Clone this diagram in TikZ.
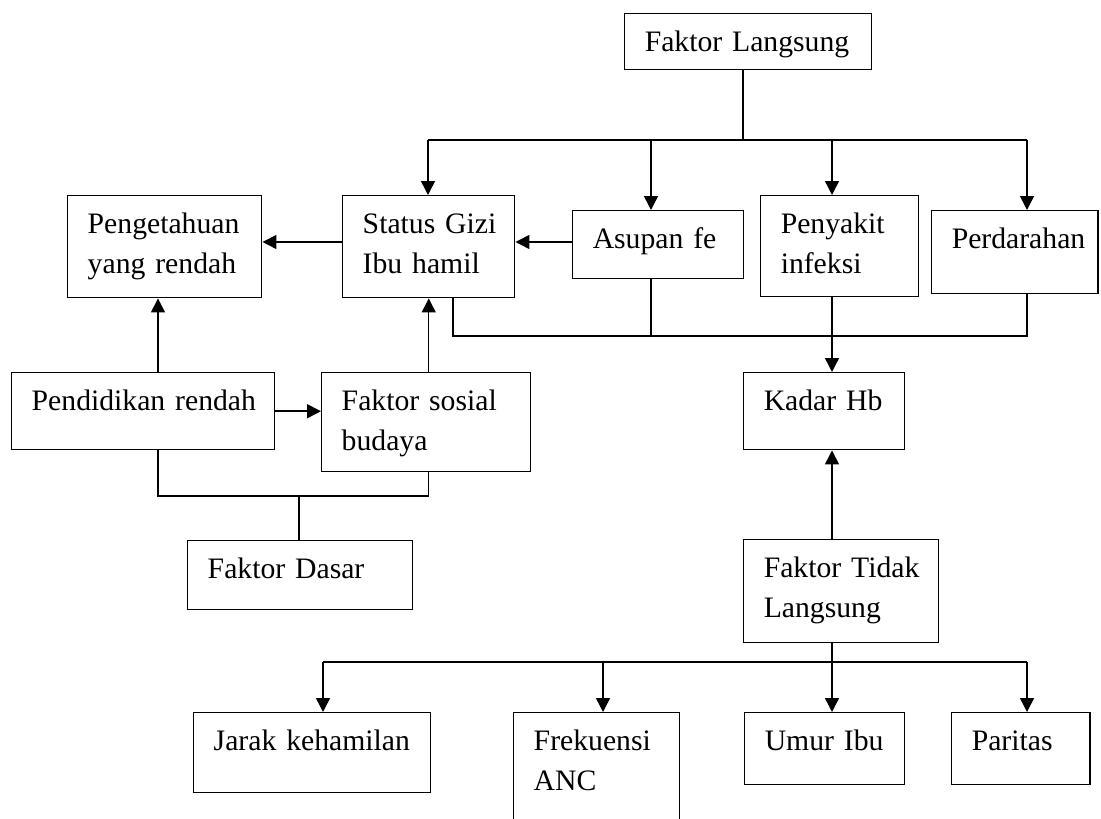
\documentclass[tikz,border=0pt]{standalone}
\usepackage{fontspec}
\setmainfont{Liberation Serif}
\usetikzlibrary{arrows.meta}
\newlength{\unitpx}
\setlength{\unitpx}{0.0142cm}
\hyphenpenalty=10000
\exhyphenpenalty=10000
\tikzset{
  box/.style={draw, line width=0.6pt, anchor=north west, align=left,
    inner xsep=20\unitpx, inner ysep=0pt, text height=38\unitpx,
    font=\fontsize{12}{16}\selectfont},
  boxsize/.style 2 args={text width=#1\unitpx, text depth=#2\unitpx},
  link/.style={line width=0.6pt},
  arr/.style={link, -{Triangle[length=5.6pt,width=5.6pt]}}
}
\begin{document}
\begin{tikzpicture}[x=0.0142cm,y=-0.0142cm]
\useasboundingbox (0,0) rectangle (1101,819);
\node[box, boxsize={207}{18}] (fl) at (624,13) {Faktor~Langsung};
\node[box, boxsize={154}{64}] (pr) at (67,195) {Pengetahuan\\yang~rendah};
\node[box, boxsize={132}{64}] (sg) at (342,195) {Status~Gizi\\Ibu~hamil};
\node[box, boxsize={131}{30}] (af) at (572,210) {Asupan~fe};
\node[box, boxsize={118}{63}] (pi) at (760,195) {Penyakit\\infeksi};
\node[box, boxsize={126}{45}] (pd) at (931,210) {Perdarahan};
\node[box, boxsize={223}{39}] (pdr) at (11,372) {Pendidikan~rendah};
\node[box, boxsize={169}{61}] (sb) at (321,372) {Faktor~sosial\\budaya};
\node[box, boxsize={121}{39}] (hb) at (743,372) {Kadar~Hb};
\node[box, boxsize={185}{31}] (fd) at (187,540) {Faktor~Dasar};
\node[box, boxsize={155}{65}] (ftl) at (743,539) {Faktor~Tidak\\Langsung};
\node[box, boxsize={197}{42}] (jk) at (193,712) {Jarak~kehamilan};
\node[box, boxsize={126}{78}] (anc) at (513,712) {Frekuensi\\ANC};
\node[box, boxsize={120}{34}] (ui) at (744,712) {Umur~Ibu};
\node[box, boxsize={98}{34}] (pt) at (951,712) {Paritas};

\coordinate (jt) at (743,140);
\coordinate (jsg) at (428,140);
\coordinate (jaf) at (651,140);
\coordinate (jpi) at (832,140);
\coordinate (jpd) at (1027,140);
\draw[link] (fl.south -| jt) -- (jt);
\draw[link] (jsg) -- (jpd);
\foreach \j/\n in {jsg/sg,jaf/af,jpi/pi,jpd/pd}
  \draw[arr] (\j) -- (\j |- \n.north);

\coordinate (row) at (0,242);
\draw[arr] (sg.west |- row) -- (pr.east |- row);
\draw[arr] (af.west |- row) -- (sg.east |- row);

\coordinate (ba) at (453,336);
\coordinate (bb) at (1027,336);
\draw[link] (ba |- sg.south) -- (ba) -- (bb) -- (bb |- pd.south);
\draw[link] (jaf |- af.south) -- (jaf |- ba);
\draw[arr] (jpi |- pi.south) -- (jpi |- hb.north);

\coordinate (ped) at (158,496);
\coordinate (jfd) at (299,496);
\draw[arr] (ped |- pdr.north) -- (ped |- pr.south);
\draw[arr] (sg.south |- sb.north) -- (sg.south);
\draw[arr] (pdr.east) -- (pdr.east -| sb.west);
\draw[link] (ped |- pdr.south) -- (ped) -- (sg.south |- ped) -- (sg.south |- sb.south);
\draw[link] (jfd) -- (jfd |- fd.north);

\draw[arr] (jpi |- ftl.north) -- (jpi |- hb.south);
\coordinate (jb) at (832,662);
\draw[link] (jb |- ftl.south) -- (jb);
\coordinate (bjk) at (323,662);
\coordinate (banc) at (603,662);
\coordinate (bui) at (832,662);
\coordinate (bpt) at (1027,662);
\draw[link] (bjk) -- (bpt);
\foreach \n in {jk,anc,ui,pt}
  \draw[arr] (b\n) -- (b\n |- \n.north);
\end{tikzpicture}
\end{document}
